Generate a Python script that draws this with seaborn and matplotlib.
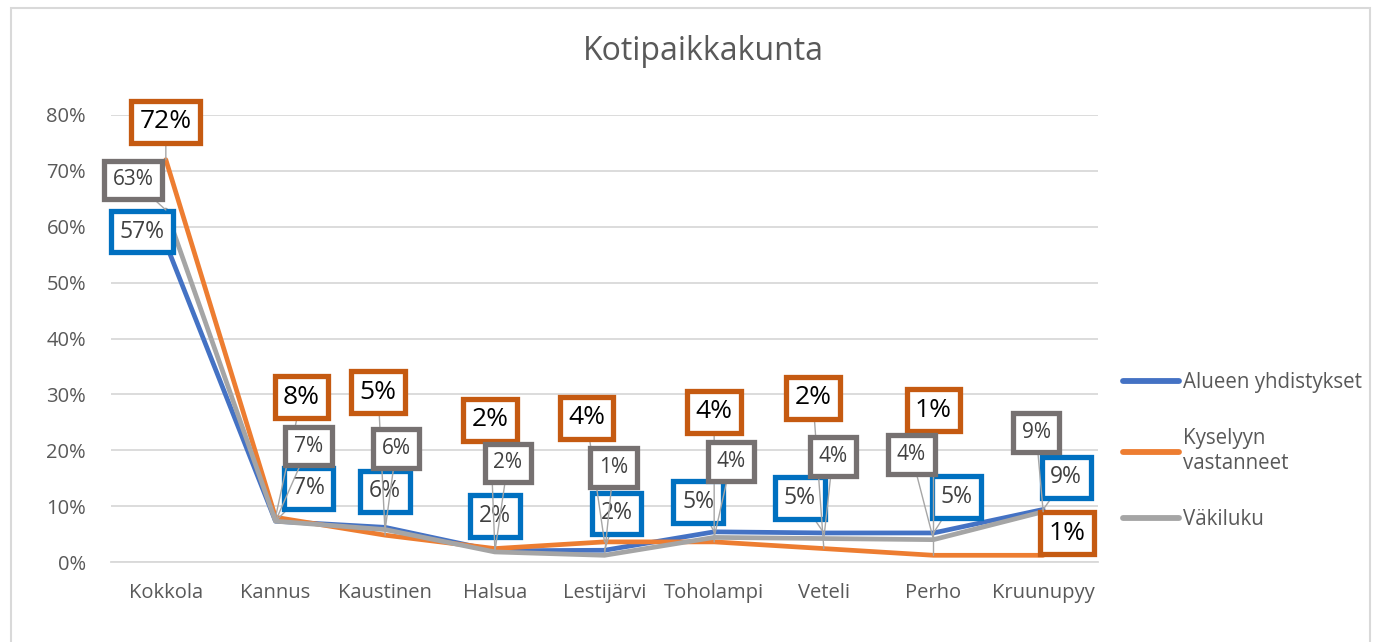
import matplotlib
matplotlib.use("Agg")
import matplotlib.pyplot as plt
import seaborn as sns
import pandas as pd
from matplotlib.patches import Rectangle
from matplotlib.lines import Line2D

places = ["Kokkola", "Kannus", "Kaustinen", "Halsua", "Lestijärvi",
          "Toholampi", "Veteli", "Perho", "Kruunupyy"]
series = ["Alueen yhdistykset", "Kyselyyn vastanneet", "Väkiluku"]
legend_labels = ["Alueen yhdistykset", "Kyselyyn\nvastanneet", "Väkiluku"]

alueen = [0.57, 0.073, 0.062, 0.020, 0.021, 0.054, 0.052, 0.052, 0.094]
kyselyyn = [0.72, 0.080, 0.048, 0.024, 0.036, 0.036, 0.024, 0.012, 0.012]
vakiluku = [0.63, 0.073, 0.058, 0.018, 0.012, 0.044, 0.042, 0.040, 0.090]

yticks = [0, 0.1, 0.2, 0.3, 0.4, 0.5, 0.6, 0.7, 0.8]

line_colors = ["#4472C4", "#ED7D31", "#A5A5A5"]
box_colors = ["#0070C0", "#C55A11", "#767171"]
text_colors = ["#404040", "#000000", "#404040"]
label_sizes = [16.5, 19, 15]
label_pads = [0.38, 0.32, 0.42]

# label box offsets from each point, in pixels (x right, y up)
offsets = [
    [(-24, 12), (33, 33), (0, 36), (0, 35), (12, 37), (-16, 30), (-24, 35), (23, 36), (23, 32)],
    [(0, 38), (26, 120), (-7, 143), (-5, 129), (-18, 124), (0, 130), (-11, 151), (0, 145), (24, 22)],
    [(-33, 30), (33, 75), (11, 81), (13, 89), (9, 88), (17, 76), (9, 82), (-22, 85), (-7, 79)],
]

values = [alueen, kyselyyn, vakiluku]
df = pd.DataFrame({
    "paikka": places * 3,
    "osuus": alueen + kyselyyn + vakiluku,
    "sarja": [s for s in series for _ in places],
})

sns.set_style("white")
plt.rcParams["font.family"] = ["Open Sans", "DejaVu Sans"]

fig = plt.figure(figsize=(13.75, 6.42), dpi=100)
ax = fig.add_axes([111 / 1375, 1 - 562 / 642, (1098 - 111) / 1375, (562 - 115) / 642])

sns.lineplot(data=df, x="paikka", y="osuus", hue="sarja", hue_order=series,
             palette=line_colors, sort=False, linewidth=3.4, ax=ax, legend=False)

ax.set_xlim(-0.5, len(places) - 0.5)
ax.set_ylim(0, 0.8)
ax.set_yticks(yticks)
ax.set_yticklabels([f"{t:.0%}" for t in yticks])
ax.yaxis.grid(True, color="#D9D9D9", lw=1.3)
ax.set_axisbelow(True)
for s in ["top", "right", "left"]:
    ax.spines[s].set_visible(False)
ax.spines["bottom"].set_color("#D9D9D9")
ax.spines["bottom"].set_linewidth(1.3)
ax.tick_params(axis="both", length=0, labelsize=14.5, labelcolor="#595959")
ax.tick_params(axis="y", pad=18)
ax.tick_params(axis="x", pad=15)
ax.set_xlabel("")
ax.set_ylabel("")

for k in range(3):
    for i, v in enumerate(values[k]):
        ax.annotate(
            f"{v:.0%}", xy=(i, v), xytext=offsets[k][i], textcoords="offset pixels",
            ha="center", va="center", fontsize=label_sizes[k], color=text_colors[k],
            bbox=dict(boxstyle=f"square,pad={label_pads[k]}", fc="white",
                      ec=box_colors[k], lw=3.8),
            arrowprops=dict(arrowstyle="-", color="#A6A6A6", lw=1, shrinkA=0, shrinkB=0),
            zorder=5 + k,
        )

handles = [Line2D([], [], color=c, lw=4.2, solid_capstyle="round") for c in line_colors]
ax.legend(handles, legend_labels, loc="center left",
          bbox_to_anchor=(1113 / 1375, 1 - 451 / 642), bbox_transform=fig.transFigure,
          frameon=False, fontsize=14.8, labelcolor="#595959", handlelength=2.7,
          handletextpad=0.2, labelspacing=1.72, borderpad=0)

fig.text(703 / 1375, 1 - 52 / 642, "Kotipaikkakunta", ha="center", va="center",
         fontsize=23, color="#595959")

fig.patches.append(Rectangle((11 / 1375, -0.05), (1370 - 11) / 1375, 1.05 - 8 / 642,
                             transform=fig.transFigure, fill=False, ec="#D9D9D9", lw=1.5))

fig.savefig("out.png", dpi=100)
